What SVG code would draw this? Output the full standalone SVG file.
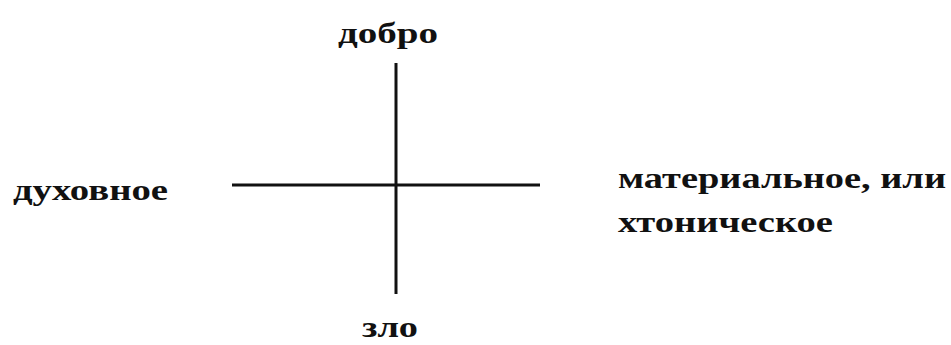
<svg xmlns="http://www.w3.org/2000/svg" width="951" height="345" viewBox="0 0 951 345">
<style>
.t{font-family:"Liberation Serif","Times New Roman",serif;font-weight:bold;font-size:30px;fill:#111}
.ax{stroke:#111;stroke-width:3;fill:none}
</style>
<rect width="951" height="345" fill="#fff"/>
<g id="connectors">
<line class="ax" x1="396" y1="63" x2="396" y2="294"/>
<line class="ax" x1="232" y1="185" x2="540" y2="185"/>
</g>
<g id="top"><text class="t" x="338" y="43" textLength="100" lengthAdjust="spacingAndGlyphs">добро</text></g>
<g id="left"><text class="t" x="13" y="200" textLength="155" lengthAdjust="spacingAndGlyphs">духовное</text></g>
<g id="right"><text class="t" x="618" y="188" textLength="328" lengthAdjust="spacingAndGlyphs">материальное, или</text>
<text class="t" x="618" y="232" textLength="215" lengthAdjust="spacingAndGlyphs">хтоническое</text></g>
<g id="bottom"><text class="t" x="362" y="337" textLength="56" lengthAdjust="spacingAndGlyphs">зло</text></g>
</svg>
